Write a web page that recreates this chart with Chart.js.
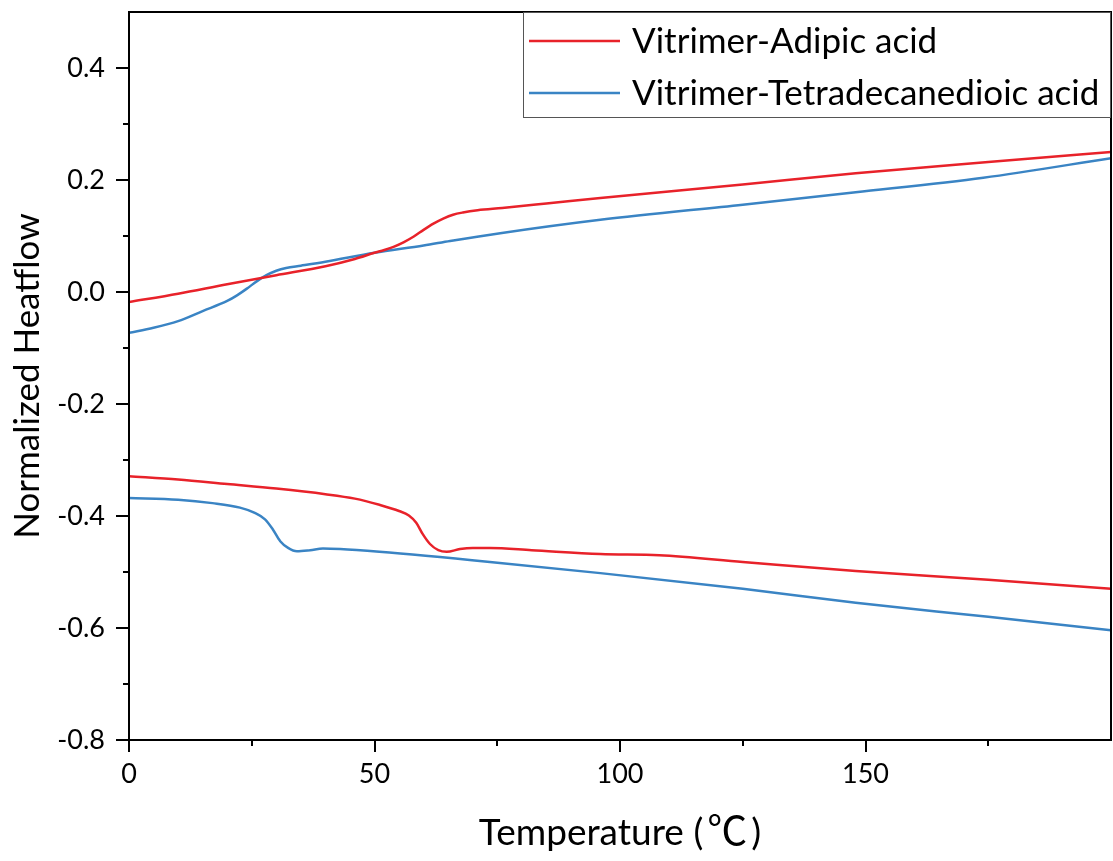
<!DOCTYPE html>
<html>
<head>
<meta charset="utf-8">
<script src="https://cdn.jsdelivr.net/npm/chart.js@4"></script>
<style>
  html, body { margin: 0; padding: 0; background: #fff; }
  #wrap { width: 1113px; height: 861px; }
</style>
</head>
<body>
<div id="wrap"><canvas id="chart1" width="1113" height="861"></canvas></div>
<script>
// DATA
const seriesNames = ["Vitrimer-Adipic acid", "Vitrimer-Tetradecanedioic acid"];
const seriesColors = ["#e8222a", "#3a84c4"];

// heating branch (upper curves)
const redTopT = [0, 10, 20, 30, 40, 46, 50, 52, 54, 56, 58, 60, 62, 64, 66, 68, 71, 76, 85, 96, 125, 148, 175, 200];
const redTopV = [-0.018, -0.003, 0.014, 0.030, 0.046, 0.059, 0.070, 0.075, 0.081, 0.089, 0.099, 0.111, 0.122, 0.131, 0.138, 0.142, 0.146, 0.150, 0.158, 0.168, 0.192, 0.212, 0.232, 0.250];
const blueTopT = [0, 5, 10, 15, 20, 22, 24, 26, 28, 30, 32, 35, 40, 50, 60, 65.4, 75.6, 96, 125, 148, 174, 200];
const blueTopV = [-0.073, -0.064, -0.052, -0.034, -0.016, -0.006, 0.006, 0.019, 0.030, 0.038, 0.043, 0.047, 0.054, 0.070, 0.083, 0.091, 0.105, 0.129, 0.156, 0.178, 0.204, 0.239];

// cooling branch (lower curves)
const redBotT = [0, 10, 20, 30, 40, 46, 51, 55, 57, 58.5, 59.8, 61.3, 63, 64.7, 67.4, 70, 73.5, 82, 96, 108, 125, 148, 175, 200];
const redBotV = [-0.329, -0.335, -0.343, -0.351, -0.361, -0.369, -0.380, -0.391, -0.399, -0.412, -0.432, -0.450, -0.461, -0.464, -0.459, -0.457, -0.457, -0.461, -0.468, -0.470, -0.482, -0.498, -0.514, -0.530];
const blueBotT = [0, 10, 17, 22.6, 25.5, 27.7, 29.3, 30.8, 32.4, 34.2, 36.9, 39.5, 43, 51, 73.5, 96, 125, 148, 175, 200];
const blueBotV = [-0.368, -0.371, -0.377, -0.385, -0.394, -0.406, -0.424, -0.445, -0.457, -0.463, -0.461, -0.458, -0.459, -0.464, -0.482, -0.502, -0.530, -0.555, -0.580, -0.604];

// axis ticks
const xMin = 0, xMax = 200, xStep = 25, xLabelEvery = 50;
const yMin = -0.8, yMax = 0.5, yStep = 0.1;
const xTitleParts = ["Temperature (", "℃", ")"];

const FONT = "Lato, 'Noto Sans CJK SC', sans-serif";
const CJK = "'Noto Sans CJK SC', sans-serif";

function toPoints(ts, vs) {
    return ts.map((t, i) => ({ x: t, y: vs[i] }));
}

function isMajorX(v) { return Math.abs(v % xLabelEvery) < 1e-6; }
function isMajorY(v) { return Math.round(v * 10) % 2 === 0; }

// drop the auto padding Chart.js keeps for edge labels
function fitBox(s, w, h) {
    if (w) s.width = w;
    if (h) s.height = h;
    s.paddingTop = 0; s.paddingBottom = 0; s.paddingLeft = 0; s.paddingRight = 0;
}

// frame, tick marks, x title and legend box
const framePlugin = {
    id: 'frame',
    afterDraw(chart) {
        const ctx = chart.ctx;
        const a = chart.chartArea;
        const xs = chart.scales.x, ys = chart.scales.y;
        ctx.save();
        ctx.strokeStyle = '#000';
        ctx.lineWidth = 2;
        ctx.strokeRect(a.left, a.top, a.right - a.left, a.bottom - a.top);

        // x ticks (outside, below)
        xs.ticks.forEach(t => {
            if (t.value >= xMax) return;
            const px = Math.round(xs.getPixelForValue(t.value));
            const len = isMajorX(t.value) ? 12 : 6;
            ctx.beginPath();
            ctx.moveTo(px, a.bottom);
            ctx.lineTo(px, a.bottom + len);
            ctx.stroke();
        });
        // y ticks (outside, left)
        ys.ticks.forEach(t => {
            if (t.value >= yMax - 1e-6) return;
            const py = Math.round(ys.getPixelForValue(t.value));
            const len = isMajorY(t.value) ? 13 : 6;
            ctx.beginPath();
            ctx.moveTo(a.left, py);
            ctx.lineTo(a.left - len, py);
            ctx.stroke();
        });

        // x title, the degree sign from the CJK font
        ctx.fillStyle = '#000';
        ctx.textBaseline = 'alphabetic';
        const fonts = ['37px ' + FONT, '40px ' + CJK, '37px ' + FONT];
        const gaps = [4, 4, 0];
        let widths = xTitleParts.map((p, i) => { ctx.font = fonts[i]; return ctx.measureText(p).width + gaps[i]; });
        let tx = (a.left + a.right) / 2 - widths.reduce((s, w) => s + w, 0) / 2;
        xTitleParts.forEach((p, i) => {
            ctx.font = fonts[i];
            ctx.fillText(p, tx, 845);
            tx += widths[i];
        });

        // legend
        const bx = 523, by = 12, bw = a.right - bx, bh = 106;
        ctx.fillStyle = '#fff';
        ctx.fillRect(bx, by, bw, bh);
        ctx.lineWidth = 1;
        ctx.strokeStyle = '#555';
        ctx.strokeRect(bx + 0.5, by + 0.5, bw - 1, bh - 1);
        ctx.font = '35px ' + FONT;
        ctx.textBaseline = 'middle';
        ctx.fillStyle = '#000';
        const rows = [41, 93];
        seriesNames.forEach((name, i) => {
            ctx.strokeStyle = seriesColors[i];
            ctx.lineWidth = 2.5;
            ctx.beginPath();
            ctx.moveTo(529, rows[i]);
            ctx.lineTo(620, rows[i]);
            ctx.stroke();
            ctx.fillText(name, 632, rows[i] + 1);
        });
        ctx.restore();
    }
};

let ctx1 = document.getElementById('chart1').getContext('2d');
let myChart1 = new Chart(ctx1, {
    type: 'scatter',
    data: {
        datasets: [
            { label: seriesNames[0], data: toPoints(redTopT, redTopV), borderColor: seriesColors[0] },
            { label: seriesNames[1], data: toPoints(blueTopT, blueTopV), borderColor: seriesColors[1] },
            { label: seriesNames[0], data: toPoints(redBotT, redBotV), borderColor: seriesColors[0] },
            { label: seriesNames[1], data: toPoints(blueBotT, blueBotV), borderColor: seriesColors[1] }
        ]
    },
    options: {
        responsive: false,
        animation: false,
        showLine: true,
        elements: {
            point: { radius: 0, hoverRadius: 0 },
            line: { borderWidth: 2.5, cubicInterpolationMode: 'monotone', fill: false }
        },
        layout: { padding: { top: 12, right: 2, left: 0, bottom: 0 } },
        plugins: {
            legend: { display: false },
            tooltip: { enabled: false }
        },
        scales: {
            x: {
                type: 'linear',
                min: xMin, max: xMax,
                grid: { display: false, drawTicks: false },
                border: { display: false },
                ticks: {
                    stepSize: xStep,
                    autoSkip: false,
                    maxRotation: 0,
                    padding: 18,
                    color: '#000',
                    font: { family: FONT, size: 27 },
                    callback: v => (isMajorX(v) && v < xMax) ? String(v) : ''
                },
                afterFit: s => fitBox(s, 0, 121)
            },
            y: {
                type: 'linear',
                min: yMin, max: yMax,
                grid: { display: false, drawTicks: false },
                border: { display: false },
                ticks: {
                    stepSize: yStep,
                    autoSkip: false,
                    padding: 24,
                    color: '#000',
                    font: { family: FONT, size: 27 },
                    callback: v => (isMajorY(v) && v < yMax - 1e-6) ? v.toFixed(1) : ''
                },
                title: {
                    display: true,
                    text: 'Normalized Heatflow',
                    color: '#000',
                    font: { family: FONT, size: 35 },
                    padding: { top: 7, bottom: 0 }
                },
                afterFit: s => fitBox(s, 129, 0)
            }
        }
    },
    plugins: [framePlugin]
});
</script>
</body>
</html>
